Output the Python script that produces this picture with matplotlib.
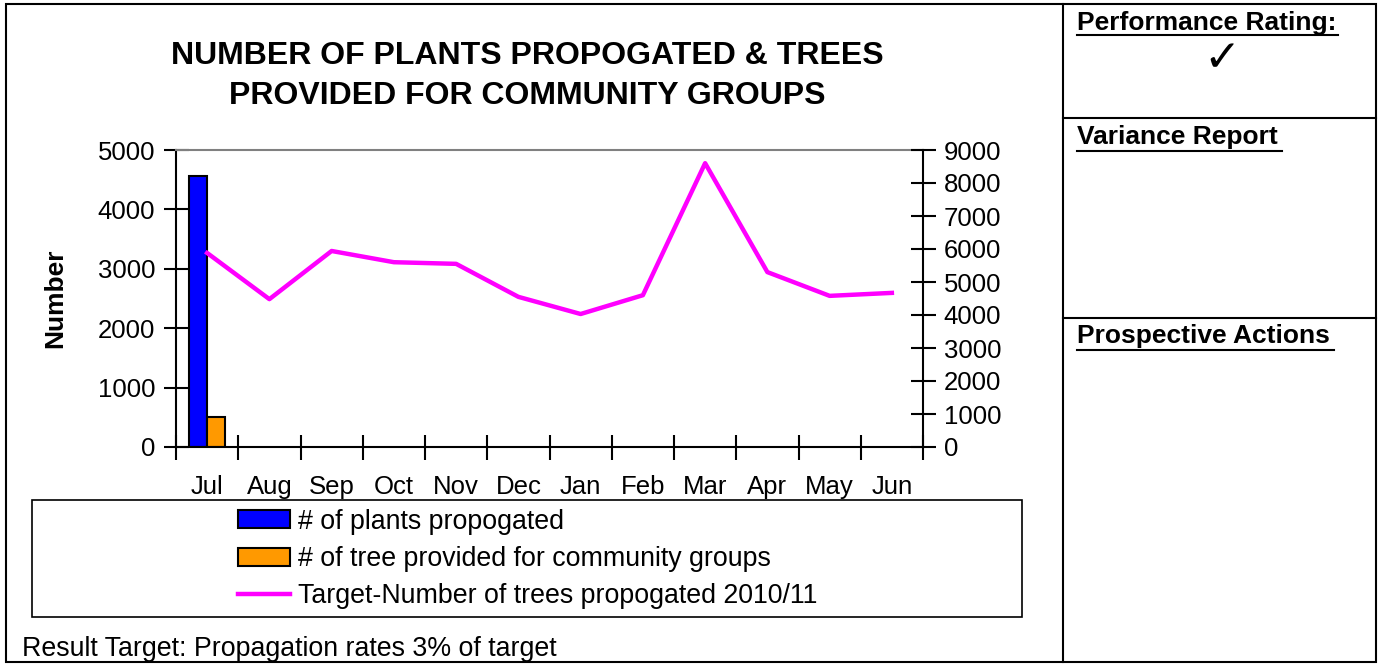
import matplotlib.pyplot as plt
import numpy as np
from matplotlib.patches import Rectangle
from matplotlib.lines import Line2D

plt.rcParams['font.family'] = ['Liberation Sans', 'DejaVu Sans']

months = ['Jul', 'Aug', 'Sep', 'Oct', 'Nov', 'Dec', 'Jan', 'Feb', 'Mar', 'Apr', 'May', 'Jun']
plants_propagated = [4560] + [np.nan] * 11
trees_community = [500] + [np.nan] * 11
target_trees = [5880, 4480, 5940, 5600, 5550, 4550, 4030, 4600, 8600, 5300, 4580, 4670]

W, H = 1379, 664


def fx(x):
    return x / W


def fy(y):
    return 1 - y / H


def box(x0, y0, x1, y1, lw=1.5):
    fig.add_artist(Rectangle((fx(x0), fy(y1)), fx(x1) - fx(x0), fy(y0) - fy(y1),
                             transform=fig.transFigure, fill=False, edgecolor='black', lw=lw))


def hline(x0, x1, y, lw=1.5):
    fig.add_artist(Line2D([fx(x0), fx(x1)], [fy(y), fy(y)], transform=fig.transFigure, color='black', lw=lw))


def vline(x, y0, y1, lw=1.5):
    fig.add_artist(Line2D([fx(x), fx(x)], [fy(y0), fy(y1)], transform=fig.transFigure, color='black', lw=lw))


fig = plt.figure(figsize=(W / 100, H / 100), dpi=100)

# page frame and right hand panel
box(6, 4, 1376, 662)
vline(1063, 4, 662)
hline(1063, 1376, 118)
hline(1063, 1376, 318)

fig.text(fx(1077), fy(23), 'Performance Rating:', fontsize=19, fontweight='bold', va='center', ha='left')
hline(1077, 1338, 35)
fig.text(fx(1222), fy(59), '\u2713', fontsize=32, fontweight='bold', va='center', ha='center',
         family='DejaVu Sans')
fig.text(fx(1077), fy(137), 'Variance Report', fontsize=19, fontweight='bold', va='center', ha='left')
hline(1077, 1282, 151)
fig.text(fx(1077), fy(336), 'Prospective Actions', fontsize=19, fontweight='bold', va='center', ha='left')
hline(1077, 1334, 350)

fig.text(fx(527), fy(56), 'NUMBER OF PLANTS PROPOGATED & TREES', fontsize=23, fontweight='bold',
         ha='center', va='center')
fig.text(fx(527), fy(96), 'PROVIDED FOR COMMUNITY GROUPS', fontsize=23, fontweight='bold',
         ha='center', va='center')

# chart
ax = fig.add_axes([fx(176), fy(447), (923 - 176) / W, (447 - 150) / H])
x = np.arange(len(months))
bw = 0.286
b1 = ax.bar(x - bw / 2, plants_propagated, bw, color='#0000FF', edgecolor='black', lw=1.5,
            label='# of plants propogated')
b2 = ax.bar(x + bw / 2, trees_community, bw, color='#FF9900', edgecolor='black', lw=1.5,
            label='# of tree provided for community groups')
ax.set_xlim(-0.5, 11.5)
ax.set_ylim(0, 5000)
ax.set_yticks(range(0, 5001, 1000))
ax.set_xticks(x)
ax.set_xticklabels(months)
ax.set_xticks(np.arange(-0.5, 12, 1), minor=True)
ax.tick_params(axis='x', which='major', length=0, labelsize=18.5, pad=20)
ax.tick_params(axis='x', which='minor', direction='inout', length=18, width=1.5)
ax.tick_params(axis='y', direction='inout', length=18, width=1.5, labelsize=18.5, pad=6)
ax.set_ylabel('Number', fontsize=19, fontweight='bold')
ax.yaxis.set_label_coords(-0.146, 0.5)
for s in ['left', 'bottom']:
    ax.spines[s].set_linewidth(1.5)
ax.spines['top'].set_color('#808080')
ax.spines['top'].set_linewidth(1.5)
ax.spines['right'].set_visible(False)

ax2 = ax.twinx()
l1, = ax2.plot(x, target_trees, color='#FF00FF', lw=3.2, label='Target-Number of trees propogated 2010/11')
ax2.set_ylim(0, 9000)
ax2.set_yticks(range(0, 9001, 1000))
ax2.tick_params(axis='y', direction='inout', length=18, width=1.5, labelsize=18.5, pad=6)
for s in ['left', 'bottom', 'top']:
    ax2.spines[s].set_visible(False)
ax2.spines['right'].set_linewidth(1.5)

# legend
box(32, 500, 1022, 617, lw=1.2)
leg = fig.legend(handles=[b1, b2, l1], loc='upper left', bbox_to_anchor=(fx(227), fy(498)),
                 frameon=False, fontsize=19.3, handlelength=1.95, handleheight=0.65,
                 handletextpad=0.3, labelspacing=0.42, borderaxespad=0)

fig.text(fx(22), fy(649), 'Result Target: Propagation rates 3% of target', fontsize=19.3,
         ha='left', va='center')

fig.savefig('out.png', dpi=100)
